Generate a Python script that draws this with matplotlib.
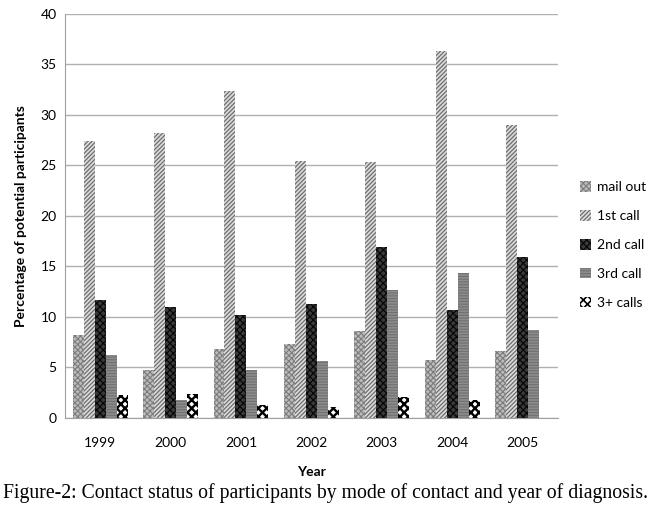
import matplotlib
matplotlib.use("Agg")
import matplotlib.pyplot as plt
import numpy as np

years = ["1999", "2000", "2001", "2002", "2003", "2004", "2005"]
series_names = ["mail out", "1st call", "2nd call", "3rd call", "3+ calls"]
mail_out = [8.2, 4.7, 6.8, 7.3, 8.6, 5.7, 6.6]
first_call = [27.4, 28.2, 32.4, 25.4, 25.3, 36.3, 29.0]
second_call = [11.7, 11.0, 10.2, 11.3, 16.9, 10.7, 15.9]
third_call = [6.2, 1.8, 4.7, 5.6, 12.7, 14.3, 8.7]
three_plus = [2.3, 2.4, 1.3, 1.1, 2.1, 1.8, 0.0]
yticks = [0, 5, 10, 15, 20, 25, 30, 35, 40]

styles = [
    dict(facecolor="#bcbcbc", hatch="xxxxxx", edgecolor="#7c7c7c"),
    dict(facecolor="#dcdcdc", hatch="////////", edgecolor="#6e6e6e"),
    dict(facecolor="#3a3a3a", hatch="xxxxx", edgecolor="#080808"),
    dict(facecolor="#8c8c8c", hatch="------", edgecolor="#707070"),
    dict(facecolor="white", hatch="xxxx", edgecolor="black"),
]
hatch_lw = [0.8, 0.9, 0.9, 0.8, 1.7]

plt.rcParams["font.family"] = ["Lato", "DejaVu Sans"]

fig = plt.figure(figsize=(6.5, 5.14), dpi=100)
ax = fig.add_axes([0.1, 0.187, 0.758, 0.786])

data = [mail_out, first_call, second_call, third_call, three_plus]
x = np.arange(len(years))
w = 0.156
for i, (vals, name, st, hl) in enumerate(zip(data, series_names, styles, hatch_lw)):
    with plt.rc_context({"hatch.linewidth": hl}):
        bars = ax.bar(x + (i - 2) * w, vals, width=w, label=name, linewidth=0, **st)
    for b in bars:
        if hasattr(b, "set_hatch_linewidth"):
            b.set_hatch_linewidth(hl)

ax.set_xlim(-0.5, len(years) - 0.5)
ax.set_ylim(0, 40)
ax.set_yticks(yticks)
ax.set_xticks(x)
ax.set_xticklabels(years)
ax.yaxis.grid(True, color="#b0b0b0", linewidth=1)
ax.set_axisbelow(True)
for s in ["top", "right"]:
    ax.spines[s].set_visible(False)
for s in ["left", "bottom"]:
    ax.spines[s].set_color("#a0a0a0")
ax.tick_params(length=0, labelsize=10, pad=6)
ax.tick_params(axis="x", pad=14)
ax.set_xlabel("Year", fontsize=10, fontweight="bold", labelpad=12)
ax.set_ylabel("Percentage of potential participants", fontsize=10, fontweight="bold", labelpad=10)

leg = ax.legend(loc="center left", bbox_to_anchor=(1.02, 0.428), frameon=False,
                fontsize=10, handlelength=0.8, handleheight=0.8, handletextpad=0.4,
                labelspacing=1.2)
for h, hl in zip(leg.legend_handles, hatch_lw):
    if hasattr(h, "set_hatch_linewidth"):
        h.set_hatch_linewidth(min(hl, 1.2))

fig.text(0.005, 0.022, "Figure-2: Contact status of participants by mode of contact and year of diagnosis.",
         fontsize=14.2, family="Liberation Serif", ha="left", va="bottom")

fig.savefig("out.png", dpi=100, facecolor="white")
